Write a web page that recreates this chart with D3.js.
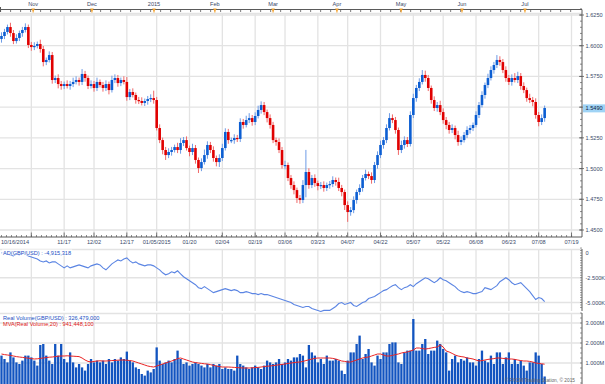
<!DOCTYPE html>
<html><head><meta charset="utf-8">
<script src="https://cdn.jsdelivr.net/npm/d3@7"></script>
<style>body{margin:0;background:#fff}svg{display:block}text{font-family:"Liberation Sans",Arial,sans-serif}</style>
</head><body><svg id="c" width="605" height="384"></svg>
<script>
// ---------- DATA ----------
const firstOpen = 1.6055;
const closes = [
1.6079,1.6112,1.6152,1.6103,1.6038,1.6063,1.6103,1.6128,1.6152,1.6006,
1.5989,1.5998,1.6014,1.5973,1.5867,1.5884,1.5924,1.5721,1.5737,1.5688,
1.5672,1.5688,1.5672,1.5688,1.5705,1.5721,1.5705,1.5770,1.5737,1.5672,
1.5688,1.5656,1.5705,1.5680,1.5656,1.5688,1.5639,1.5721,1.5737,1.5696,
1.5721,1.5705,1.5582,1.5623,1.5599,1.5558,1.5550,1.5534,1.5550,1.5566,
1.5574,1.5558,1.5330,1.5232,1.5151,1.5110,1.5135,1.5151,1.5175,1.5151,
1.5208,1.5232,1.5167,1.5135,1.5167,1.5070,1.5004,1.5053,1.5110,1.5192,
1.5151,1.5086,1.5053,1.5086,1.5167,1.5298,1.5232,1.5232,1.5249,1.5241,
1.5379,1.5355,1.5395,1.5411,1.5379,1.5428,1.5477,1.5517,1.5460,1.5411,
1.5355,1.5232,1.5216,1.5151,1.5029,1.5029,1.4923,1.4866,1.4825,1.4760,
1.4744,1.4866,1.4972,1.4866,1.4923,1.4882,1.4858,1.4866,1.4842,1.4866,
1.4874,1.4907,1.4891,1.4842,1.4809,1.4703,1.4646,1.4662,1.4744,1.4809,
1.4842,1.4923,1.4956,1.4939,1.4907,1.5029,1.5110,1.5192,1.5232,1.5330,
1.5411,1.5395,1.5314,1.5151,1.5192,1.5232,1.5200,1.5436,1.5574,1.5656,
1.5705,1.5762,1.5737,1.5656,1.5558,1.5493,1.5517,1.5460,1.5395,1.5355,
1.5314,1.5330,1.5273,1.5216,1.5232,1.5273,1.5314,1.5330,1.5355,1.5436,
1.5517,1.5599,1.5680,1.5737,1.5802,1.5843,1.5884,1.5867,1.5802,1.5737,
1.5705,1.5737,1.5721,1.5753,1.5672,1.5639,1.5574,1.5558,1.5542,1.5436,
1.5379,1.5411,1.5493];
const upWickPips = [
30,25,20,35,25,30,20,25,30,20, 25,30,20,35,25,20,30,25,20,30,
25,20,30,25,35,30,20,40,25,20, 30,25,35,20,25,30,20,35,30,25,
20,30,40,25,30,20,25,30,20,25, 30,60,25,30,20,25,30,25,20,35,
40,25,30,20,35,25,20,30,45,30, 25,30,20,30,35,30,25,20,30,25,
30,25,35,40,25,30,35,30,25,20, 30,25,20,30,25,35,20,25,30,20,
25,40,180,30,25,30,20,25,30,20, 25,30,20,35,25,20,30,25,30,20,
30,25,35,20,30,25,30,35,25,30, 40,30,25,20,35,30,25,30,35,25,
30,40,35,25,20,30,25,35,30,25, 25,30,20,35,30,25,30,25,20,30,
25,30,20,35,30,25,40,30,25,30, 25,30,40,35,25,30,20,35,25,30,
25,30,20];
const downWickPips = [
30,25,20,30,25,20,25,30,20,25, 30,25,20,30,35,25,20,30,25,35,
30,25,20,30,25,20,30,25,30,25, 20,30,25,20,30,25,35,20,25,30,
25,20,30,25,20,30,25,20,25,30, 25,30,20,25,35,40,25,30,20,25,
30,25,20,35,25,30,40,25,20,30, 25,30,35,40,25,20,30,25,30,25,
25,30,20,25,30,25,20,30,25,35, 30,25,30,25,30,35,25,30,35,40,
30,25,100,30,25,30,35,25,30,25, 30,25,30,25,35,40,80,30,25,30,
25,30,20,25,30,25,30,25,30,25, 20,25,30,40,25,30,25,20,25,30,
25,20,30,25,30,25,30,25,30,35, 30,25,35,30,25,20,25,30,25,20,
25,20,30,25,20,30,25,30,25,30, 25,30,20,25,30,25,30,25,35,30,
35,25,30];
// AD indicator, thousands
const adValues = [
0,100,-100,-200,-300,-100,-200,0,-100,-300,
-400,-500,-600,-800,-900,-800,-1000,-900,-900,-1100,
-1300,-1500,-1300,-1500,-1400,-1300,-1200,-1300,-1400,-1500,
-1300,-1200,-1100,-1200,-1500,-1700,-1400,-1100,-900,-700,
-800,-600,-500,-800,-1000,-900,-1100,-1200,-1300,-1200,
-1200,-1300,-1500,-1700,-2000,-2200,-2100,-1900,-2000,-1800,
-2100,-2400,-2600,-2800,-3000,-3200,-3500,-3600,-3400,-3600,
-3800,-4000,-3900,-3800,-3700,-3600,-3700,-3800,-3700,-3800,
-4000,-4000,-3900,-4000,-4100,-4100,-4200,-4100,-4200,-4200,
-4300,-4400,-4500,-4600,-4700,-4800,-4900,-5000,-5200,-5300,
-5400,-5500,-5400,-5400,-5600,-5700,-5800,-5900,-5800,-5800,
-5800,-5600,-5400,-5100,-5000,-5200,-5100,-5000,-5300,-5400,
-5200,-5000,-4900,-4600,-4500,-4400,-4200,-4000,-3800,-3700,
-3500,-3300,-3200,-3500,-3700,-3500,-3400,-3200,-3400,-3100,
-2900,-2700,-2500,-2600,-2800,-3000,-2800,-2500,-2700,-2800,
-3000,-3200,-3400,-3700,-3900,-4000,-3900,-4000,-4100,-4100,
-4000,-3900,-3500,-3600,-3700,-3500,-3300,-2900,-2700,-2500,
-2700,-3000,-3200,-3100,-3000,-3300,-3600,-3900,-4300,-4700,
-4500,-4600,-4915];
// Real volume, millions
const volumes = [
1370,1200,1030,1530,1280,1030,950,1120,1370,1370,
1280,1120,870,1900,1950,1370,1120,950,1950,1370,
1950,1200,1030,1530,1030,780,950,780,620,950,
1200,1030,1120,1030,1120,950,1200,1030,1200,1120,
1280,1200,1570,1120,1030,780,700,450,370,620,
530,700,1780,1120,950,1030,1120,1030,1200,1620,
1200,950,1030,870,950,1030,950,870,780,950,
780,950,870,950,700,780,700,700,620,1370,
950,870,780,700,780,870,780,700,870,1120,
1030,950,1030,1200,950,1030,1200,1120,1280,1280,
1450,1370,780,1900,1530,1370,1030,1200,950,1370,
1120,1120,1200,1120,620,450,1120,1530,1530,1950,
2370,1200,1450,1700,1030,870,1370,1200,1530,1530,
1950,2030,2030,1030,950,1530,1620,1620,3200,1620,
1620,1950,2200,1450,1620,1620,2120,1950,1700,1530,
620,1200,1370,1030,1200,1120,1280,1030,1030,870,
1200,1620,1120,1030,1370,950,1530,1530,950,1280,
1530,950,1200,950,1120,870,620,1030,1030,1530,
1370,950,326];
// MVA(Real Volume,20), millions
const volumeMA = [
1450,1420,1400,1380,1350,1320,1300,1280,1260,1240,
1220,1200,1210,1230,1250,1270,1290,1300,1320,1340,
1350,1350,1360,1350,1340,1330,1320,1250,1150,1080,
1050,1080,1100,1110,1100,1100,1110,1120,1130,1140,
1150,1150,1140,1120,1100,1050,1000,950,900,850,
820,800,850,900,950,1000,1050,1100,1150,1220,
1250,1200,1150,1100,1050,1020,1000,980,960,950,
920,880,850,820,800,800,800,790,780,770,
760,750,750,750,760,770,780,800,820,840,
850,870,890,910,930,950,980,1000,1020,1040,
1050,1080,1120,1160,1200,1230,1250,1250,1250,1250,
1250,1230,1200,1150,1100,1080,1050,1050,1100,1150,
1200,1250,1280,1300,1350,1400,1450,1450,1400,1350,
1350,1380,1420,1450,1500,1530,1550,1600,1650,1750,
1750,1720,1700,1720,1750,1780,1800,1900,1800,1600,
1550,1480,1400,1350,1320,1300,1250,1230,1200,1150,
1100,1120,1150,1180,1200,1220,1250,1250,1230,1220,
1200,1200,1180,1150,1120,1100,1100,1080,1050,1000,
980,960,941];
const monthLabels = ['Nov','Dec','2015','Feb','Mar','Apr','May','Jun','Jul'];
const monthIdx = [10.6,30.3,51.1,71.5,91,112.4,133.9,154.3,175.4];
const firstDateLabel = '10/16/2014';
const dateLabels = ['11/17','12/02','12/17','01/05/2015','01/20','02/04','02/19','03/06','03/23','04/07','04/22','05/07','05/22','06/08','06/23','07/08','07/19'];
const dateIdx = [21,31,42,52,63,74,85,95,106,116,127,138,148,159,170,180,191];
const gridOnlyIdx = [10];
const priceTicks = [1.45,1.475,1.5,1.525,1.55,1.575,1.6,1.625];
const lastPriceLabel = '1.5490';
const adTicks = [0,-2500,-5000];
const adTickLabels = ['0','-2.500K','-5.000K'];
const volTicks = [1000,2000,3000];
const volTickLabels = ['1.000M','2.000M','3.000M'];
const adTitle = 'AD(GBP/USD) : -4,915,318';
const volTitle = 'Real Volume(GBP/USD) : 326,479,000';
const maTitle = 'MVA(Real Volume,20) : 941,448,100';
const copyright = '\u00a9 FXCM Trading Station, \u00a9 2015';

// ---------- CHART ----------
const svg = d3.select('#c');
const RX = 582;
const x = d3.scaleLinear().domain([-0.5, 191.5]).range([0, 573]);
const y = d3.scaleLinear().domain([1.45, 1.625]).range([230, 15]);
const yAd = d3.scaleLinear().domain([-5000, 0]).range([302.5, 253]);
const yVol = d3.scaleLinear().domain([0, 3000]).range([383, 323]);
const gridCol = '#e3e3e3', axisCol = '#5a5a5a', lblCol = '#3a4a6a';
const fs = 5.6;
const opens = closes.map((c, i) => i === 0 ? firstOpen : closes[i - 1]);
const gridX = gridOnlyIdx.concat(dateIdx);

const panels = [[13, 237], [249, 311], [313, 384]];
panels.forEach(([t, b]) => {
  svg.append('g').selectAll('line').data(gridX).join('line')
    .attr('x1', d => x(d)).attr('x2', d => x(d)).attr('y1', t).attr('y2', b)
    .attr('stroke', gridCol).attr('stroke-width', 1.3);
  svg.append('line').attr('x1', 0).attr('x2', RX).attr('y1', t + 0.5).attr('y2', t + 0.5)
    .attr('stroke', gridCol).attr('stroke-width', 1.5);
});
svg.append('g').selectAll('line').data(priceTicks).join('line')
  .attr('x1', 0).attr('x2', RX).attr('y1', d => y(d)).attr('y2', d => y(d))
  .attr('stroke', gridCol).attr('stroke-width', 1.3);
svg.append('g').selectAll('line').data(adTicks.slice(1)).join('line')
  .attr('x1', 0).attr('x2', RX).attr('y1', d => yAd(d)).attr('y2', d => yAd(d))
  .attr('stroke', gridCol).attr('stroke-width', 1.3);
svg.append('g').selectAll('line').data(volTicks).join('line')
  .attr('x1', 0).attr('x2', RX).attr('y1', d => yVol(d)).attr('y2', d => yVol(d))
  .attr('stroke', gridCol).attr('stroke-width', 1.3);

// ---- top axis ----
svg.append('line').attr('x1', 0.5).attr('x2', RX).attr('y1', 9.5).attr('y2', 9.5).attr('stroke', axisCol).attr('stroke-width', 1);
svg.append('line').attr('x1', 0.5).attr('x2', 0.5).attr('y1', 7).attr('y2', 12).attr('stroke', axisCol);
const topMinor = d3.range(-0.3, 191.5, 10 / 2.984);
svg.append('g').selectAll('line').data(topMinor).join('line')
  .attr('x1', d => x(d)).attr('x2', d => x(d)).attr('y1', 9.5).attr('y2', 12)
  .attr('stroke', axisCol).attr('stroke-width', 0.8);
svg.append('g').selectAll('path').data(monthIdx).join('path')
  .attr('d', d => `M${x(d) - 1.8},8.5 L${x(d) + 1.8},8.5 L${x(d) + 0.6},11 L${x(d) + 0.6},12.5 L${x(d) - 0.6},12.5 L${x(d) - 0.6},11 Z`)
  .attr('fill', '#f2a230');
svg.append('g').selectAll('text').data(monthLabels).join('text')
  .attr('x', (d, i) => x(monthIdx[i])).attr('y', 6).attr('text-anchor', 'middle')
  .attr('font-size', fs).attr('fill', lblCol).text(d => d);

// ---- candles ----
const cg = svg.append('g');
cg.selectAll('line').data(closes).join('line')
  .attr('x1', (d, i) => x(i)).attr('x2', (d, i) => x(i))
  .attr('y1', (d, i) => y(Math.max(d, opens[i]) + upWickPips[i] / 10000))
  .attr('y2', (d, i) => y(Math.min(d, opens[i]) - downWickPips[i] / 10000))
  .attr('stroke', (d, i) => d >= opens[i] ? '#6d9be6' : '#f06868').attr('stroke-width', 1);
cg.selectAll('rect').data(closes).join('rect')
  .attr('x', (d, i) => x(i) - 1.3).attr('width', 2.6)
  .attr('y', (d, i) => y(Math.max(d, opens[i])))
  .attr('height', (d, i) => Math.max(1.2, Math.abs(y(d) - y(opens[i]))))
  .attr('fill', (d, i) => d >= opens[i] ? '#0c5ed2' : '#e00000');

// ---- right price axis ----
svg.append('line').attr('x1', RX).attr('x2', RX).attr('y1', 9.5).attr('y2', 237).attr('stroke', axisCol);
const pMinor = d3.range(1.45, 1.6301, 0.005);
svg.append('g').selectAll('line').data(pMinor).join('line')
  .attr('x1', RX - 2).attr('x2', RX).attr('y1', d => y(d)).attr('y2', d => y(d)).attr('stroke', axisCol).attr('stroke-width', 0.7);
svg.append('g').selectAll('line').data(priceTicks).join('line')
  .attr('x1', RX - 3).attr('x2', RX + 2).attr('y1', d => y(d)).attr('y2', d => y(d)).attr('stroke', axisCol).attr('stroke-width', 0.8);
svg.append('g').selectAll('text').data(priceTicks.filter(d => Math.abs(d - 1.55) > 1e-6)).join('text')
  .attr('x', RX + 3.5).attr('y', d => y(d) + 2).attr('font-size', fs).attr('fill', lblCol)
  .text(d => d3.format('.4f')(d));
const lp = +lastPriceLabel;
svg.append('rect').attr('x', RX + 1).attr('y', y(lp) - 4).attr('width', 22).attr('height', 8).attr('fill', '#9fd3f5');
svg.append('text').attr('x', RX + 3.5).attr('y', y(lp) + 2).attr('font-size', fs).attr('fill', '#102040').text(lastPriceLabel);

// ---- bottom date axis ----
svg.append('line').attr('x1', 0).attr('x2', RX).attr('y1', 237).attr('y2', 237).attr('stroke', axisCol);
const bMinor = d3.range(0, 192, 5 / 2.984);
svg.append('g').selectAll('line').data(bMinor).join('line')
  .attr('x1', d => x(d)).attr('x2', d => x(d)).attr('y1', 235).attr('y2', 237).attr('stroke', axisCol).attr('stroke-width', 0.7);
svg.append('g').selectAll('line').data(gridX).join('line')
  .attr('x1', d => x(d)).attr('x2', d => x(d)).attr('y1', 232.5).attr('y2', 237).attr('stroke', axisCol).attr('stroke-width', 0.8);
svg.append('text').attr('x', 1).attr('y', 244).attr('font-size', fs).attr('fill', lblCol).text(firstDateLabel);
svg.append('g').selectAll('text').data(dateLabels).join('text')
  .attr('x', (d, i) => x(dateIdx[i])).attr('y', 244).attr('text-anchor', 'middle')
  .attr('font-size', fs).attr('fill', lblCol).text(d => d);

// ---- AD panel ----
svg.append('path').datum(adValues)
  .attr('d', d3.line().x((d, i) => x(i)).y(d => yAd(d)))
  .attr('fill', 'none').attr('stroke', '#5b85e3').attr('stroke-width', 1.1);
svg.append('line').attr('x1', RX).attr('x2', RX).attr('y1', 249).attr('y2', 311).attr('stroke', axisCol);
svg.append('g').selectAll('line').data(d3.range(-5500, 501, 250)).join('line')
  .attr('x1', RX - 2).attr('x2', RX).attr('y1', d => yAd(d)).attr('y2', d => yAd(d)).attr('stroke', axisCol).attr('stroke-width', 0.6);
svg.append('g').selectAll('text').data(adTicks).join('text')
  .attr('x', RX + 3.5).attr('y', d => yAd(d) + 2).attr('font-size', fs).attr('fill', lblCol)
  .text((d, i) => adTickLabels[i]);
svg.append('rect').attr('x', 2).attr('y', 249.5).attr('width', 70).attr('height', 6).attr('fill', '#fff').attr('opacity', 0.85);
svg.append('text').attr('x', 3).attr('y', 255).attr('font-size', fs).attr('fill', '#1a4fc4').text(adTitle);

// ---- Volume panel ----
svg.append('g').selectAll('rect').data(volumes).join('rect')
  .attr('x', (d, i) => x(i) - 1.15).attr('width', 2.3)
  .attr('y', d => yVol(d)).attr('height', d => yVol(0) - yVol(d) + 1)
  .attr('fill', '#1254c0');
svg.append('path').datum(volumeMA)
  .attr('d', d3.line().x((d, i) => x(i)).y(d => yVol(d)))
  .attr('fill', 'none').attr('stroke', '#ea2424').attr('stroke-width', 1);
svg.append('line').attr('x1', RX).attr('x2', RX).attr('y1', 313).attr('y2', 384).attr('stroke', axisCol);
svg.append('g').selectAll('line').data(d3.range(0, 3501, 250)).join('line')
  .attr('x1', RX - 2).attr('x2', RX).attr('y1', d => yVol(d)).attr('y2', d => yVol(d)).attr('stroke', axisCol).attr('stroke-width', 0.6);
svg.append('g').selectAll('text').data(volTicks).join('text')
  .attr('x', RX + 3.5).attr('y', d => yVol(d) + 2).attr('font-size', fs).attr('fill', lblCol)
  .text((d, i) => volTickLabels[i]);
svg.append('text').attr('x', 3).attr('y', 319.5).attr('font-size', fs).attr('fill', '#1a4fc4').text(volTitle);
svg.append('text').attr('x', 3).attr('y', 326).attr('font-size', fs).attr('fill', '#e01818').text(maTitle);
svg.append('text').attr('x', 575).attr('y', 382).attr('text-anchor', 'end').attr('font-size', 4.8).attr('fill', '#666').text(copyright);
</script></body></html>
